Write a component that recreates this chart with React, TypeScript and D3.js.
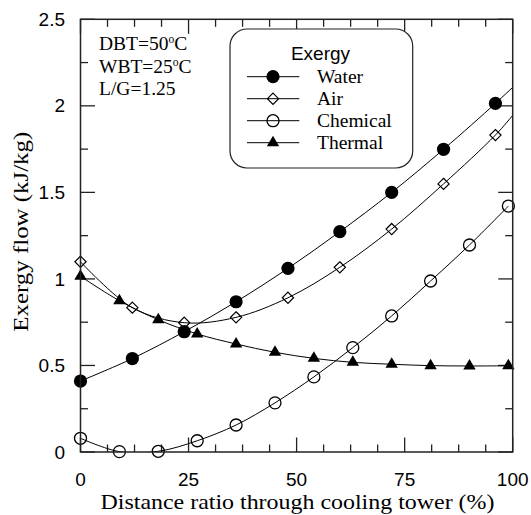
import React from "react";
import * as d3 from "d3";

// Distance along the tower (%) where each series was sampled
const waterAirDistance = [0, 12, 24, 36, 48, 60, 72, 84, 96];
const chemThermalDistance = [0, 9, 18, 27, 36, 45, 54, 63, 72, 81, 90, 99];

// Exergy flow (kJ/kg)
const water = [0.41, 0.54, 0.695, 0.868, 1.061, 1.273, 1.5, 1.749, 2.014];
const air = [1.099, 0.834, 0.747, 0.778, 0.891, 1.067, 1.288, 1.549, 1.831];
const chemical = [0.079, 0.002, 0.004, 0.065, 0.156, 0.284, 0.434, 0.603, 0.786, 0.988, 1.196, 1.421];
const thermal = [1.015, 0.874, 0.764, 0.682, 0.624, 0.576, 0.541, 0.518, 0.507, 0.499, 0.497, 0.498];

// Where the fitted water/air curves leave the plot at 100 %
const waterAtOutlet = 2.107;
const airAtOutlet = 1.945;

const xTicks = [0, 25, 50, 75, 100];
const yTicks = [0, 0.5, 1, 1.5, 2, 2.5];
const yTickLabels = ["0", "0.5", "1", "1.5", "2", "2.5"];

const legendTitle = "Exergy";
const seriesNames = ["Water", "Air", "Chemical", "Thermal"];
const conditions = [
  { main: "DBT=50", sup: "o", tail: "C" },
  { main: "WBT=25", sup: "o", tail: "C" },
  { main: "L/G=1.25", sup: "", tail: "" },
];

const W = 531;
const H = 515;
const left = 80.5;
const right = 512.7;
const top = 19.3;
const bottom = 452;

const serif = "'Liberation Serif', 'Times New Roman', serif";
const sans = "'Liberation Sans', Arial, sans-serif";

type Pt = { x: number; y: number };
type Kind = "filledCircle" | "diamond" | "openCircle" | "triangle";

function Marker({ kind, cx, cy }: { kind: Kind; cx: number; cy: number }) {
  if (kind === "filledCircle") return <circle cx={cx} cy={cy} r={6.6} fill="#000" />;
  if (kind === "openCircle")
    return <circle cx={cx} cy={cy} r={6} fill="none" stroke="#000" strokeWidth={1.3} />;
  if (kind === "diamond") {
    const s = 5.6;
    return (
      <path
        d={`M${cx},${cy - s}L${cx + s},${cy}L${cx},${cy + s}L${cx - s},${cy}Z`}
        fill="none"
        stroke="#000"
        strokeWidth={1.2}
      />
    );
  }
  const hw = 6.2;
  const h = 10.5;
  return (
    <path
      d={`M${cx},${cy - (2 * h) / 3}L${cx + hw},${cy + h / 3}L${cx - hw},${cy + h / 3}Z`}
      fill="#000"
    />
  );
}

export default function App() {
  const x = d3.scaleLinear().domain([0, 100]).range([left, right]);
  const y = d3.scaleLinear().domain([0, 2.5]).range([bottom, top]);

  const toPts = (xs: number[], ys: number[]): Pt[] => xs.map((d, i) => ({ x: d, y: ys[i] }));

  const series: { name: string; kind: Kind; pts: Pt[]; line: Pt[] }[] = [
    {
      name: seriesNames[0],
      kind: "filledCircle",
      pts: toPts(waterAirDistance, water),
      line: [...toPts(waterAirDistance, water), { x: 100, y: waterAtOutlet }],
    },
    {
      name: seriesNames[1],
      kind: "diamond",
      pts: toPts(waterAirDistance, air),
      line: [...toPts(waterAirDistance, air), { x: 100, y: airAtOutlet }],
    },
    {
      name: seriesNames[2],
      kind: "openCircle",
      pts: toPts(chemThermalDistance, chemical),
      line: toPts(chemThermalDistance, chemical),
    },
    {
      name: seriesNames[3],
      kind: "triangle",
      pts: toPts(chemThermalDistance, thermal),
      line: toPts(chemThermalDistance, thermal),
    },
  ];

  const lineGen = d3
    .line<Pt>()
    .x((d) => x(d.x))
    .y((d) => y(d.y))
    .curve(d3.curveCatmullRom.alpha(0.5));

  const xMinor = d3.range(0, 100.01, 6.25);
  const yMinor = d3.range(0, 2.501, 0.25);
  const isMajorX = (v: number) => Math.abs(v % 25) < 1e-6;
  const isMajorY = (v: number) => Math.abs((v * 2) % 1) < 1e-6;
  const majorLen = 14.5;
  const minorLen = 7.5;

  // Legend geometry
  const lgX = 230;
  const lgY = 29;
  const lgW = 182.7;
  const lgH = 139;
  const rowY = [76.7, 98.7, 120.7, 142.7];

  return (
    <svg
      width={W}
      height={H}
      viewBox={`0 0 ${W} ${H}`}
      style={{ position: "absolute", left: 0, top: 0, background: "#fff" }}
    >
      <rect x={0} y={0} width={W} height={H} fill="#fff" />
      <defs>
        <clipPath id="plot-clip">
          <rect x={left} y={top} width={right - left} height={bottom - top} />
        </clipPath>
      </defs>

      {/* ticks on all four sides, pointing inward */}
      <g stroke="#222" strokeWidth={1.3}>
        {xMinor.map((v) => {
          const len = isMajorX(v) ? majorLen : minorLen;
          return (
            <g key={`xt${v}`}>
              <line x1={x(v)} x2={x(v)} y1={bottom} y2={bottom - len} />
              <line x1={x(v)} x2={x(v)} y1={top} y2={top + len} />
            </g>
          );
        })}
        {yMinor.map((v) => {
          const len = isMajorY(v) ? majorLen : minorLen;
          return (
            <g key={`yt${v}`}>
              <line x1={left} x2={left + len} y1={y(v)} y2={y(v)} />
              <line x1={right} x2={right - len} y1={y(v)} y2={y(v)} />
            </g>
          );
        })}
      </g>

      {/* data curves and markers */}
      <g clipPath="url(#plot-clip)">
        {series.map((s) => (
          <path key={`l-${s.name}`} d={lineGen(s.line) ?? ""} fill="none" stroke="#000" strokeWidth={1} />
        ))}
      </g>
      {series.map((s) =>
        s.pts.map((p, i) => <Marker key={`m-${s.name}-${i}`} kind={s.kind} cx={x(p.x)} cy={y(p.y)} />)
      )}

      {/* frame */}
      <rect
        x={left}
        y={top}
        width={right - left}
        height={bottom - top}
        fill="none"
        stroke="#222"
        strokeWidth={1.5}
      />

      {/* tick labels */}
      <g fontFamily={sans} fontSize={19} fill="#000">
        {xTicks.map((v) => (
          <text key={`xl${v}`} x={x(v)} y={486} textAnchor="middle">
            {v}
          </text>
        ))}
        {yTicks.map((v, i) => (
          <text key={`yl${v}`} x={65} y={y(v)} dy="0.35em" textAnchor="end">
            {yTickLabels[i]}
          </text>
        ))}
      </g>

      {/* axis titles */}
      <text
        x={297.5}
        y={509}
        fontFamily={serif}
        fontSize={21}
        textAnchor="middle"
        textLength={394}
        lengthAdjust="spacingAndGlyphs"
      >
        Distance ratio through cooling tower (%)
      </text>
      <text
        transform={`translate(28,231.7) rotate(-90)`}
        fontFamily={serif}
        fontSize={21}
        textAnchor="middle"
        textLength={200}
        lengthAdjust="spacingAndGlyphs"
      >
        Exergy flow (kJ/kg)
      </text>

      {/* operating conditions */}
      <g fontFamily={serif} fontSize={19.5} fill="#000">
        {conditions.map((c, i) => (
          <text key={`c${i}`} x={99} y={50 + i * 22.6}>
            {c.main}
            {c.sup && (
              <tspan fontSize={11.5} dy={-7}>
                {c.sup}
              </tspan>
            )}
            {c.tail && <tspan dy={c.sup ? 7 : 0}>{c.tail}</tspan>}
          </text>
        ))}
      </g>

      {/* legend */}
      <rect x={lgX} y={lgY} width={lgW} height={lgH} rx={17} ry={17} fill="#fff" stroke="#222" strokeWidth={1.2} />
      <text x={320.5} y={60} fontFamily={sans} fontSize={19} textAnchor="middle">
        {legendTitle}
      </text>
      {series.map((s, i) => (
        <g key={`lg-${s.name}`}>
          <line x1={247} x2={299.3} y1={rowY[i]} y2={rowY[i]} stroke="#000" strokeWidth={1} />
          <Marker kind={s.kind} cx={273} cy={rowY[i]} />
          <text x={317} y={rowY[i]} dy="0.33em" fontFamily={serif} fontSize={19.5}>
            {s.name}
          </text>
        </g>
      ))}
    </svg>
  );
}
